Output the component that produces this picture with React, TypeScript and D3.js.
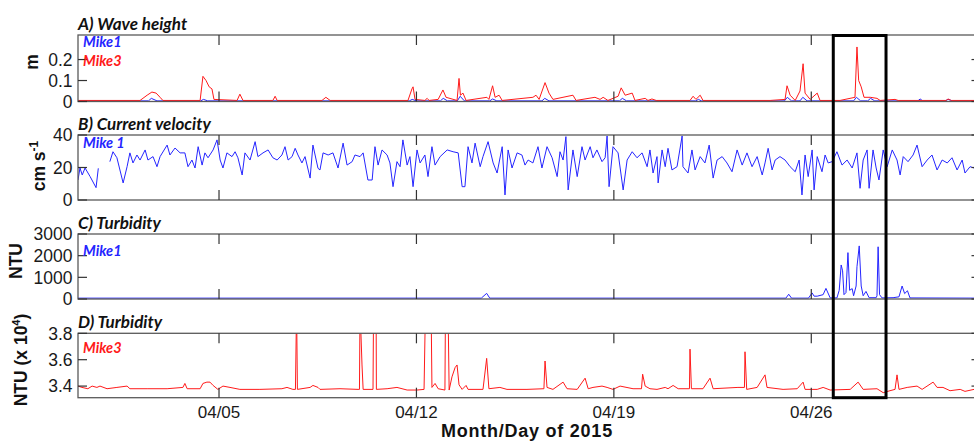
import React from 'react';
import * as d3 from 'd3';

// days since 2015-03-31 00:00
const START = new Date(2015, 2, 31);
const END = new Date(2015, 4, 2);
const xTickLabels = ['04/05', '04/12', '04/19', '04/26'];
const boxDays = [26.78, 28.65];

// A) wave height (m)
const waveDay3 = [0, 2.2, 2.45, 2.62, 2.77, 2.91, 3.01, 4.33, 4.43, 4.54, 4.65, 4.75, 4.82, 5.64, 5.74, 5.85, 6.91, 6.99, 7.06, 8.65, 8.79, 8.94, 11.7, 11.84, 11.88, 11.95, 12.3, 12.38, 12.45, 12.77, 12.94, 13.05, 13.44, 13.51, 13.56, 13.65, 13.76, 14.5, 14.57, 14.7, 14.79, 14.93, 15.04, 16.13, 16.24, 16.35, 16.56, 16.7, 16.84, 17.55, 17.66, 18.33, 18.51, 18.62, 18.79, 19.15, 19.26, 19.4, 19.65, 19.75, 20.11, 20.21, 20.35, 20.5, 21.7, 21.81, 21.91, 22.06, 22.16, 24.54, 25.07, 25.14, 25.25, 25.43, 25.6, 25.71, 25.78, 25.96, 26.21, 26.31, 27.02, 27.55, 27.62, 27.68, 27.77, 27.87, 28.09, 28.33, 28.44, 28.97, 29.08, 30.78, 30.85, 30.96, 32];
const waveVal3 = [0.005, 0.005, 0.03, 0.045, 0.04, 0.02, 0.005, 0.005, 0.12, 0.1, 0.07, 0.06, 0.01, 0.005, 0.035, 0.005, 0.005, 0.025, 0.005, 0.005, 0.02, 0.005, 0.005, 0.06, 0.07, 0.01, 0.005, 0.015, 0.005, 0.01, 0.055, 0.02, 0.005, 0.11, 0.03, 0.04, 0.005, 0.02, 0.01, 0.075, 0.02, 0.03, 0.005, 0.02, 0.03, 0.01, 0.09, 0.04, 0.01, 0.03, 0.005, 0.02, 0.01, 0.02, 0.005, 0.025, 0.065, 0.03, 0.04, 0.005, 0.015, 0.005, 0.012, 0.005, 0.005, 0.025, 0.01, 0.03, 0.005, 0.005, 0.01, 0.075, 0.03, 0.005, 0.05, 0.18, 0.04, 0.01, 0.04, 0.005, 0.005, 0.02, 0.26, 0.1, 0.07, 0.02, 0.02, 0.015, 0.005, 0.01, 0.005, 0.005, 0.012, 0.005, 0.005];
const waveDay1 = [0, 2.5, 2.6, 2.8, 4.35, 4.45, 4.6, 11.75, 11.85, 12.0, 12.85, 12.95, 13.1, 13.45, 13.55, 13.7, 14.6, 14.7, 14.85, 16.45, 16.55, 16.7, 19.2, 19.3, 19.45, 21.9, 22.0, 22.1, 25.05, 25.15, 25.3, 25.6, 25.7, 25.85, 27.5, 27.6, 27.75, 28.0, 28.1, 28.25, 29.78, 29.86, 29.95, 30.75, 30.85, 31.0, 32];
const waveVal1 = [0.003, 0.003, 0.015, 0.003, 0.003, 0.01, 0.003, 0.003, 0.01, 0.003, 0.003, 0.015, 0.003, 0.003, 0.025, 0.003, 0.003, 0.012, 0.003, 0.003, 0.015, 0.003, 0.003, 0.015, 0.003, 0.003, 0.01, 0.003, 0.003, 0.02, 0.003, 0.003, 0.02, 0.003, 0.003, 0.02, 0.003, 0.003, 0.015, 0.003, 0.003, 0.012, 0.003, 0.003, 0.01, 0.003, 0.003];

// B) current velocity (cm/s), NaN = gap
const velDay = [0, 0.07, 0.15, 0.25, 0.43, 0.64, 0.72, 0.9, 1.13, 1.24, 1.38, 1.6, 1.74, 1.84, 1.95, 2.09, 2.2, 2.38, 2.48, 2.66, 2.8, 2.91, 3.16, 3.26, 3.44, 3.62, 3.79, 3.9, 4.04, 4.15, 4.26, 4.4, 4.5, 4.61, 4.79, 4.93, 5.04, 5.14, 5.28, 5.46, 5.57, 5.67, 5.82, 5.92, 6.1, 6.28, 6.38, 6.56, 6.74, 6.91, 7.06, 7.23, 7.34, 7.45, 7.59, 7.7, 7.8, 7.94, 8.05, 8.23, 8.33, 8.51, 8.58, 8.69, 8.87, 9.04, 9.22, 9.4, 9.54, 9.72, 9.82, 10.0, 10.11, 10.28, 10.43, 10.53, 10.64, 10.78, 10.96, 11.06, 11.17, 11.31, 11.42, 11.52, 11.67, 11.77, 11.88, 12.02, 12.13, 12.3, 12.41, 12.55, 12.66, 12.84, 13.09, 13.3, 13.48, 13.62, 13.72, 13.83, 13.97, 14.08, 14.26, 14.36, 14.54, 14.72, 14.86, 15.04, 15.14, 15.25, 15.39, 15.57, 15.74, 15.85, 15.96, 16.13, 16.31, 16.45, 16.63, 16.81, 16.99, 17.09, 17.2, 17.3, 17.38, 17.55, 17.7, 17.87, 17.98, 18.16, 18.26, 18.4, 18.58, 18.69, 18.76, 18.83, 18.97, 19.15, 19.33, 19.47, 19.65, 19.82, 20.0, 20.18, 20.28, 20.39, 20.53, 20.57, 20.71, 20.82, 20.92, 21.06, 21.24, 21.42, 21.45, 21.63, 21.77, 21.88, 22.06, 22.23, 22.38, 22.52, 22.66, 22.84, 23.01, 23.19, 23.37, 23.55, 23.72, 23.9, 24.08, 24.26, 24.36, 24.47, 24.61, 24.72, 24.89, 25.07, 25.25, 25.43, 25.57, 25.67, 25.78, 25.89, 26.03, 26.1, 26.21, 26.38, 26.49, 26.6, 26.74, 26.91, 27.09, 27.27, 27.45, 27.62, 27.73, 27.84, 27.98, 28.05, 28.19, 28.3, 28.4, 28.55, 28.69, 28.87, 29.04, 29.15, 29.26, 29.43, 29.61, 29.75, 29.93, 30.11, 30.28, 30.46, 30.64, 30.82, 30.99, 31.17, 31.35, 31.45, 31.63, 31.77, 32];
const velVal = [12.3, 19.7, 15.4, 19.7, 14.4, 7.6, 19.5, NaN, 23.6, 29.7, 26, 10.5, 20.5, 29, 22.8, 27.7, 24.6, 30.8, 24.6, 26.7, 20.5, 26.7, 33.8, 27.7, 32, 29, 29, 20.5, 24.6, 19.7, 32.8, 21.5, 29, 26, 30.8, 37, 24.6, 19.7, 29, 26.7, 29.7, 26, 15.4, 29, 24.6, 35.9, 26.7, 29, 30.8, 26, 24.6, 27.7, 32.8, 24.6, 26.7, 31.8, 27.7, 22.8, 26.7, 13.5, 33.8, 19.5, 18.5, 29, 27.7, 29, 19.7, 35, 21.5, 23.6, 27.7, 26.7, 29, 12.3, 12.3, 32.8, 21.5, 30.8, 27.7, 22.8, 8.2, 23.6, 20.5, 37, 21.5, 26.7, 8.2, 30.8, 22.8, 27.7, 14.4, 32.8, 21.5, 26.7, 30.8, 29.7, 29, 8.2, 8.2, 32.8, 22.8, 35, 20.5, 26.7, 35.9, 22.8, 16.6, 32.8, 3.1, 30.8, 19.7, 29, 27.7, 21.5, 24.6, 22.8, 32.8, 19.7, 32.8, 26, 14.4, 29.7, 24.6, 39, 6.2, 30.8, 14.4, 32.8, 24.6, 32.8, 26, 30.8, 23.6, 26, 39.4, 8.2, 32.8, 29, 6.2, 24.6, 29.7, 26, 29, 20.5, 30.8, 16.6, 26.7, 10.5, 30.8, 20.5, 31.8, 18.5, 20.5, 39.4, 20.5, 16.6, 30.8, 18.5, 26.7, 22.8, 33.8, 13.5, 24.6, 26.7, 22.8, 17.4, 30.8, 21.5, 29, 20.5, 26.7, 15.4, 22.8, 31.8, 18.5, 24.6, 26.7, 24.6, 20.5, 17.4, 24.6, 3.1, 27.7, 14.4, 30.8, 6.2, 26.7, 17.4, 27.7, 22.8, 23.6, 29.7, 21.5, 24.6, 19.7, 29, 7.2, 24.6, 30.8, 7.2, 30.8, 19.7, 12.3, 30.8, 20.5, 30.8, 24.6, 15.4, 26.7, 23.6, 27.7, 33.8, 20.5, 24.6, 27.7, 18.5, 24.6, 22.8, 26, 18.5, 24.6, 16.6, 20.5, 19.7, 20];

// C) turbidity Mike1 (NTU)
const turbDay1 = [0, 14.3, 14.49, 14.6, 25.1, 25.2, 25.3, 25.9, 26.03, 26.1, 26.21, 26.42, 26.52, 26.67, 26.91, 26.99, 27.06, 27.11, 27.16, 27.23, 27.3, 27.36, 27.45, 27.5, 27.59, 27.62, 27.7, 27.77, 27.84, 27.94, 28.05, 28.3, 28.33, 28.37, 28.42, 28.51, 28.9, 29.11, 29.22, 29.31, 29.41, 29.5, 32];
const turbVal1 = [40, 40, 260, 40, 40, 220, 40, 40, 280, 130, 130, 200, 490, 50, 50, 400, 1570, 1300, 200, 300, 2140, 400, 480, 150, 600, 1490, 2450, 600, 150, 350, 60, 60, 150, 2410, 200, 50, 60, 100, 600, 250, 380, 50, 40];

// D) turbidity Mike3 (NTU x 10^4)
const turbDay3 = [0, 0.14, 0.35, 0.5, 0.67, 0.78, 1.03, 1.38, 1.74, 1.84, 2.45, 3.16, 3.72, 3.79, 3.87, 4.33, 4.43, 4.57, 4.68, 4.79, 4.96, 5.14, 5.39, 5.74, 6.45, 7.23, 7.41, 7.62, 7.71, 7.75, 7.78, 8.23, 8.33, 8.51, 8.58, 9.29, 9.93, 9.98, 10.0, 10.07, 10.11, 10.46, 10.48, 10.57, 10.58, 10.96, 11.31, 11.67, 12.02, 12.27, 12.32, 12.52, 12.55, 12.66, 12.77, 13.01, 13.03, 13.12, 13.16, 13.26, 13.37, 13.44, 13.51, 13.62, 13.76, 13.83, 14.36, 14.49, 14.57, 14.96, 15.21, 15.92, 16.52, 16.56, 16.63, 16.84, 17.2, 17.34, 17.7, 17.98, 18.09, 18.26, 18.58, 18.76, 18.97, 19.22, 19.68, 19.98, 20.02, 20.11, 20.28, 20.53, 20.82, 20.92, 21.1, 21.28, 21.63, 21.68, 21.7, 21.75, 22.16, 22.41, 22.52, 23.4, 23.63, 23.65, 23.71, 24.08, 24.36, 24.43, 25.0, 25.5, 25.71, 25.78, 26.21, 26.42, 26.67, 27.38, 27.66, 27.84, 28.33, 28.55, 28.79, 28.97, 29.04, 29.11, 29.4, 29.75, 29.93, 30.32, 30.46, 30.67, 30.92, 31.28, 31.45, 31.77, 32];
const turbVal3 = [3.4, 3.39, 3.38, 3.4, 3.39, 3.4, 3.38, 3.39, 3.4, 3.38, 3.38, 3.38, 3.39, 3.42, 3.38, 3.38, 3.42, 3.43, 3.43, 3.405, 3.375, 3.4, 3.39, 3.375, 3.375, 3.38, 3.39, 3.375, 3.375, 4.0, 3.375, 3.39, 3.405, 3.39, 3.375, 3.38, 3.375, 3.375, 4.0, 3.56, 3.375, 3.375, 4.0, 4.0, 3.375, 3.38, 3.39, 3.37, 3.37, 3.375, 4.0, 4.0, 3.39, 3.42, 3.38, 3.37, 4.0, 4.0, 3.37, 3.47, 3.54, 3.56, 3.41, 3.375, 3.405, 3.375, 3.375, 3.61, 3.38, 3.39, 3.375, 3.375, 3.38, 3.59, 3.39, 3.375, 3.43, 3.38, 3.375, 3.46, 3.38, 3.39, 3.4, 3.39, 3.375, 3.4, 3.38, 3.38, 3.49, 3.4, 3.38, 3.375, 3.39, 3.38, 3.405, 3.38, 3.38, 3.38, 3.68, 3.38, 3.38, 3.46, 3.38, 3.39, 3.39, 3.66, 3.375, 3.39, 3.485, 3.39, 3.375, 3.38, 3.43, 3.375, 3.375, 3.39, 3.37, 3.375, 3.43, 3.375, 3.38, 3.35, 3.365, 3.375, 3.485, 3.375, 3.39, 3.4, 3.375, 3.43, 3.39, 3.39, 3.365, 3.375, 3.36, 3.375, 3.38];

const BLUE = '#2525ff';
const RED = '#ff1a1a';
const FRAME = '#5a5a5a';
const TICK_FONT = "'Liberation Sans', Arial, sans-serif";
const TITLE_FONT = "Lato, 'Open Sans', sans-serif";

const toDate = (d: number) => new Date(START.getTime() + d * 864e5);
const parseTick = d3.timeParse('%m/%d/%Y');

const x = d3.scaleTime().domain([START, END]).range([78, 980.5]);
const xTicks = xTickLabels.map(l => parseTick(l + '/2015') as Date);

interface Series { days: number[]; vals: number[]; color: string }
interface PanelProps {
  id: string;
  top: number;
  bottom: number;
  domain: [number, number];
  ticks: number[];
  fmt: (v: number) => string;
  series: Series[];
  title: string;
  legends: { text: string; color: string; y: number }[];
  showXLabels?: boolean;
}

function Panel({ id, top, bottom, domain, ticks, fmt, series, title, legends, showXLabels }: PanelProps) {
  const y = d3.scaleLinear().domain(domain).range([bottom, top]);
  const [x0, x1] = x.range();
  const line = d3.line<[number, number]>()
    .defined(p => !isNaN(p[1]))
    .x(p => x(toDate(p[0])))
    .y(p => y(p[1]));
  return (
    <g>
      <clipPath id={id}>
        <rect x={x0} y={top} width={x1 - x0} height={bottom - top} />
      </clipPath>
      <g clipPath={`url(#${id})`}>
        {series.map((s, i) => (
          <path key={i} d={line(s.days.map((d, j) => [d, s.vals[j]] as [number, number])) || ''}
            fill="none" stroke={s.color} strokeWidth={1} strokeLinejoin="round" />
        ))}
      </g>
      <rect x={x0} y={top} width={x1 - x0} height={bottom - top} fill="none" stroke={FRAME} strokeWidth={1.3} />
      {xTicks.map((t, i) => (
        <g key={i} stroke="#333" strokeWidth={1.2}>
          <line x1={x(t)} x2={x(t)} y1={top} y2={top + 10} />
          <line x1={x(t)} x2={x(t)} y1={bottom} y2={bottom - 10} />
        </g>
      ))}
      {ticks.map((t, i) => (
        <g key={i}>
          <line x1={x0} x2={x0 + 9} y1={y(t)} y2={y(t)} stroke="#333" strokeWidth={1.2} />
          <line x1={x1} x2={x1 - 9} y1={y(t)} y2={y(t)} stroke="#333" strokeWidth={1.2} />
          <text x={72.5} y={y(t)} dy="0.36em" textAnchor="end" fontFamily={TICK_FONT} fontSize={17.5} fill="#1a1a1a">{fmt(t)}</text>
        </g>
      ))}
      {showXLabels && xTicks.map((t, i) => (
        <text key={i} x={x(t)} y={bottom + 20.5} textAnchor="middle" fontFamily={TICK_FONT} fontSize={17} fill="#1a1a1a">{xTickLabels[i]}</text>
      ))}
      <text x={x0} y={top - 5.5} fontFamily={TITLE_FONT} fontWeight="bold" fontStyle="italic" fontSize={17} fill="#111">{title}</text>
      {legends.map((l, i) => (
        <text key={i} x={x0 + 5} y={l.y} fontFamily={TITLE_FONT} fontWeight="bold" fontStyle="italic" fontSize={14.5} fill={l.color}>{l.text}</text>
      ))}
    </g>
  );
}

export default function App() {
  const A = { top: 35, bottom: 101.5 };
  const B = { top: 135, bottom: 200 };
  const C = { top: 234, bottom: 299 };
  const D = { top: 333.3, bottom: 397.7 };
  const labelStyle = { fontFamily: TICK_FONT, fontWeight: 'bold' as const, fontSize: 17.5, fill: '#111' };
  return (
    <svg width={974} height={442} style={{ position: 'absolute', left: 0, top: 0, background: '#fff' }}>
      <Panel id="pa" {...A} domain={[0, 0.317]} ticks={[0, 0.1, 0.2]} fmt={v => (v === 0 ? '0' : String(v))}
        series={[{ days: waveDay1, vals: waveVal1, color: BLUE }, { days: waveDay3, vals: waveVal3, color: RED }]}
        title="A) Wave height"
        legends={[{ text: 'Mike1', color: BLUE, y: 47 }, { text: 'Mike3', color: RED, y: 66 }]} />
      <Panel id="pb" {...B} domain={[0, 40]} ticks={[0, 20, 40]} fmt={v => String(v)}
        series={[{ days: velDay, vals: velVal, color: BLUE }]}
        title="B) Current velocity"
        legends={[{ text: 'Mike 1', color: BLUE, y: 148 }]} />
      <Panel id="pc" {...C} domain={[0, 3000]} ticks={[0, 1000, 2000, 3000]} fmt={v => String(v)}
        series={[{ days: turbDay1, vals: turbVal1, color: BLUE }]}
        title="C) Turbidity"
        legends={[{ text: 'Mike1', color: BLUE, y: 256 }]} />
      <Panel id="pd" {...D} domain={[3.312, 3.8]} ticks={[3.4, 3.6, 3.8]} fmt={v => v.toFixed(1)}
        series={[{ days: turbDay3, vals: turbVal3, color: RED }]}
        title="D) Turbidity"
        legends={[{ text: 'Mike3', color: RED, y: 353 }]} showXLabels />

      {/* y-axis labels */}
      <text transform="translate(38,62) rotate(-90)" textAnchor="middle" {...labelStyle}>m</text>
      <text transform="translate(45,166) rotate(-90)" textAnchor="middle" {...labelStyle}>
        cm s<tspan dy={-7} fontSize={12}>-1</tspan>
      </text>
      <text transform="translate(22,261) rotate(-90)" textAnchor="middle" {...labelStyle}>NTU</text>
      <text transform="translate(27,360) rotate(-90)" textAnchor="middle" {...labelStyle}>
        NTU (x 10<tspan dy={-7} fontSize={11}>4</tspan><tspan dy={7}>)</tspan>
      </text>

      <text x={527} y={437} textAnchor="middle" fontFamily={TICK_FONT} fontWeight="bold" fontSize={18} letterSpacing={0.75} fill="#111">Month/Day of 2015</text>

      {/* highlight box */}
      <rect x={x(toDate(boxDays[0]))} y={A.top + 0.5} width={x(toDate(boxDays[1])) - x(toDate(boxDays[0]))}
        height={D.bottom - A.top - 0.5} fill="none" stroke="#000" strokeWidth={3} />
    </svg>
  );
}
